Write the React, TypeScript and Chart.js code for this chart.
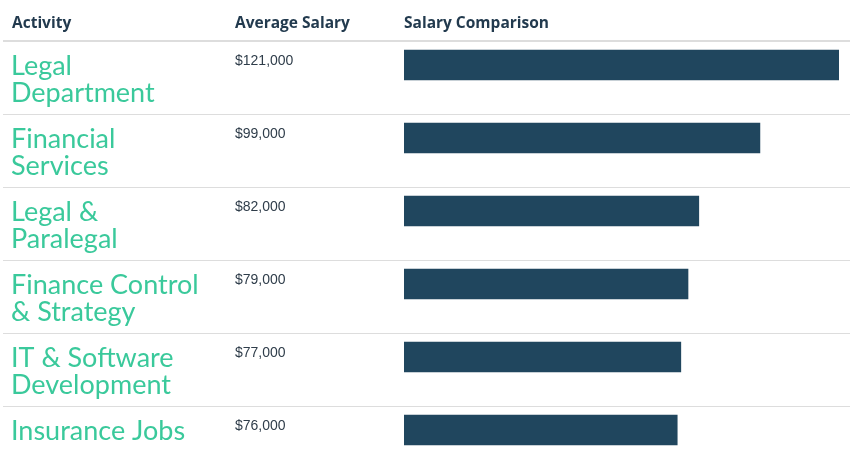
import React, { useEffect, useRef } from "react";
import { Chart, registerables } from "chart.js";

Chart.register(...registerables);

const categories: string[][] = [
  ["Legal", "Department"],
  ["Financial", "Services"],
  ["Legal &", "Paralegal"],
  ["Finance Control", "& Strategy"],
  ["IT & Software", "Development"],
  ["Insurance Jobs"],
];
const salaries: number[] = [121000, 99000, 82000, 79000, 77000, 76000];
const headers: string[] = ["Activity", "Average Salary", "Salary Comparison"];

const GREEN = "#3ac99b";
const NAVY = "#20465e";
const HEAD = "#223a4e";
const LINE = "#dddddd";

const fmt = (v: number) => "$" + v.toLocaleString("en-US");

const tablePlugin = {
  id: "tablePlugin",
  beforeDatasetsDraw(chart: any) {
    const ctx = chart.ctx;
    const y = chart.scales.y;
    const W = chart.width;
    ctx.save();
    ctx.fillStyle = LINE;
    ctx.fillRect(3, 40, W - 3, 2);
    for (let i = 0; i < categories.length - 1; i++) {
      const c = y.getPixelForValue(i);
      ctx.fillRect(3, Math.round(c + 49), W - 3, 1);
    }
    ctx.fillStyle = HEAD;
    ctx.font = "bold 15.5px 'Open Sans'";
    ctx.textBaseline = "alphabetic";
    ctx.textAlign = "left";
    ctx.fillText(headers[0], 12, 27.5);
    ctx.fillText(headers[1], 235, 27.5);
    ctx.fillText(headers[2], chart.chartArea.left, 27.5);
    ctx.restore();
  },
  afterDatasetsDraw(chart: any) {
    const ctx = chart.ctx;
    const y = chart.scales.y;
    ctx.save();
    ctx.textBaseline = "alphabetic";
    ctx.textAlign = "left";
    categories.forEach((lines, i) => {
      const c = y.getPixelForValue(i);
      ctx.fillStyle = GREEN;
      ctx.font = "27px Lato";
      lines.forEach((t, k) => {
        ctx.fillText(t, 11, c + 9.5 + k * 27);
      });
      ctx.fillStyle = "#2f3d4a";
      ctx.font = "14px 'Liberation Sans', Arial, sans-serif";
      ctx.fillText(fmt(salaries[i]), 235, c);
    });
    ctx.restore();
  },
};

export default function App() {
  const ref = useRef<HTMLCanvasElement>(null);
  useEffect(() => {
    const canvas = ref.current!;
    const chart = new Chart(canvas, {
      type: "bar",
      data: {
        labels: categories,
        datasets: [
          {
            data: salaries,
            backgroundColor: NAVY,
            borderWidth: 0,
            barThickness: 30,
          },
        ],
      },
      options: {
        indexAxis: "y",
        responsive: false,
        animation: false,
        devicePixelRatio: 1,
        layout: { padding: { left: 404, right: 11, top: 28.5, bottom: 3.5 } },
        scales: {
          x: { display: false, min: 0, max: 121000 },
          y: { display: false },
        },
        plugins: {
          legend: { display: false },
          tooltip: { enabled: false },
        },
      },
      plugins: [tablePlugin],
    });
    return () => chart.destroy();
  }, []);
  return (
    <div
      style={{
        position: "fixed",
        top: 0,
        left: 0,
        width: 850,
        height: 464,
        overflow: "hidden",
        background: "#fff",
      }}
    >
      <canvas ref={ref} width={850} height={470} style={{ width: 850, height: 470, display: "block" }} />
    </div>
  );
}
